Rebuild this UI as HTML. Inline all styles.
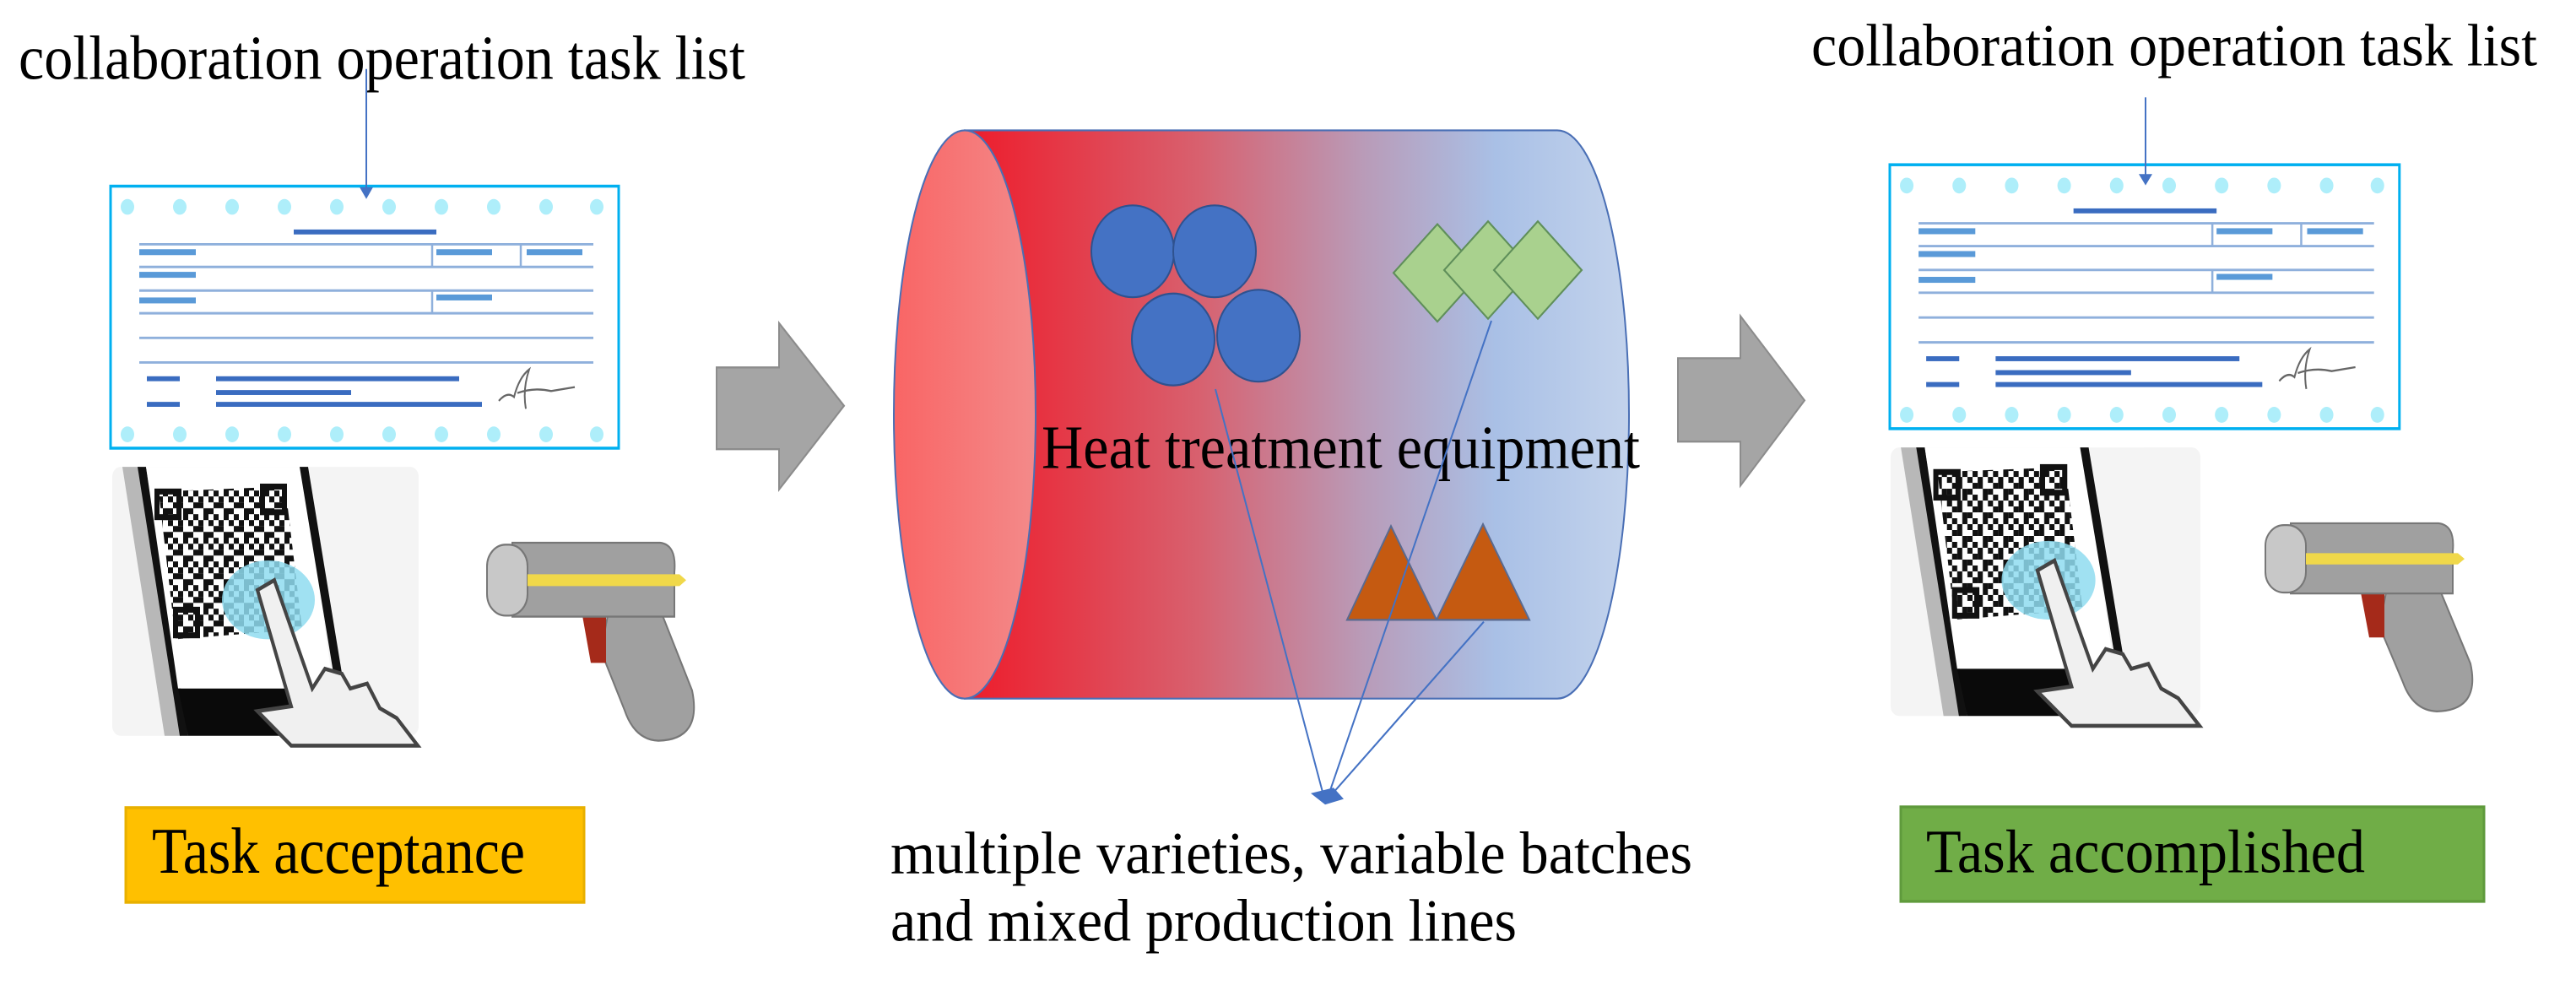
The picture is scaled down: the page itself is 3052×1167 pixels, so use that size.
<!DOCTYPE html>
<html><head><meta charset="utf-8"><style>
html,body{margin:0;padding:0;background:#fff;}
svg{display:block;}
text{font-family:"Liberation Serif",serif;fill:#000;}
</style></head><body>
<svg width="3052" height="1167" viewBox="0 0 3052 1167" xmlns="http://www.w3.org/2000/svg">
<defs>
<linearGradient id="body" x1="0" x2="1" y1="0" y2="0">
<stop offset="0" stop-color="#ee1c2b"/>
<stop offset="0.35" stop-color="#d8606e"/>
<stop offset="0.6" stop-color="#b99bb8"/>
<stop offset="0.8" stop-color="#a9c0e6"/>
<stop offset="1" stop-color="#c3d3ec"/>
</linearGradient>
<linearGradient id="face" x1="0" x2="1" y1="0" y2="0">
<stop offset="0" stop-color="#f96565"/>
<stop offset="1" stop-color="#f38a8a"/>
</linearGradient>
<pattern id="qr" width="24" height="24" patternUnits="userSpaceOnUse">
<rect width="24" height="24" fill="#fff"/>
<rect x="0" y="0" width="6" height="6" fill="#111"/><rect x="12" y="0" width="6" height="6" fill="#111"/>
<rect x="6" y="6" width="6" height="6" fill="#111"/><rect x="18" y="6" width="6" height="6" fill="#111"/>
<rect x="0" y="12" width="6" height="6" fill="#111"/><rect x="6" y="12" width="6" height="6" fill="#111"/>
<rect x="18" y="18" width="6" height="6" fill="#111"/><rect x="12" y="18" width="6" height="6" fill="#111"/>
</pattern>
<g id="doc">
<rect x="0" y="0" width="602" height="266" fill="#fff" stroke="#00b0f0" stroke-width="3"/>
<g fill="#aeeefa">
<circle cx="20" cy="21" r="8"/><circle cx="82" cy="21" r="8"/><circle cx="144" cy="21" r="8"/><circle cx="206" cy="21" r="8"/><circle cx="268" cy="21" r="8"/><circle cx="330" cy="21" r="8"/><circle cx="392" cy="21" r="8"/><circle cx="454" cy="21" r="8"/><circle cx="516" cy="21" r="8"/><circle cx="576" cy="21" r="8"/>
<circle cx="20" cy="252" r="8"/><circle cx="82" cy="252" r="8"/><circle cx="144" cy="252" r="8"/><circle cx="206" cy="252" r="8"/><circle cx="268" cy="252" r="8"/><circle cx="330" cy="252" r="8"/><circle cx="392" cy="252" r="8"/><circle cx="454" cy="252" r="8"/><circle cx="516" cy="252" r="8"/><circle cx="576" cy="252" r="8"/>
</g>
<rect x="217" y="44" width="169" height="5" fill="#3a6cc0"/>
<g stroke="#8fb0dc" stroke-width="2.5">
<line x1="34" y1="59" x2="572" y2="59"/><line x1="34" y1="82" x2="572" y2="82"/>
<line x1="34" y1="106" x2="572" y2="106"/><line x1="34" y1="129" x2="572" y2="129"/>
<line x1="34" y1="154" x2="572" y2="154"/><line x1="34" y1="179" x2="572" y2="179"/>
<line x1="381" y1="59" x2="381" y2="82"/><line x1="486" y1="59" x2="486" y2="82"/>
<line x1="381" y1="106" x2="381" y2="129"/>
</g>
<g fill="#5a9ad8">
<rect x="34" y="64" width="67" height="6"/><rect x="34" y="87" width="67" height="6"/><rect x="34" y="113" width="67" height="6"/>
<rect x="386" y="64" width="66" height="6"/><rect x="493" y="64" width="66" height="6"/><rect x="386" y="110" width="66" height="6"/>
</g>
<g fill="#3a6cc0">
<rect x="43" y="193" width="39" height="5"/><rect x="125" y="193" width="288" height="5"/>
<rect x="125" y="207" width="160" height="5"/>
<rect x="43" y="219" width="39" height="5"/><rect x="125" y="219" width="315" height="5"/>
</g>
<path d="M460 218 q10 -10 18 -4 q6 -20 18 -28 q-8 20 -4 40 M482 210 q20 -6 40 -2 q14 -2 28 -4" stroke="#666" stroke-width="2" fill="none"/>
</g>
<g id="phone">
<rect x="0" y="0" width="363" height="273" rx="10" fill="#f4f4f4"/>
<polygon points="12,0 32,0 82,273 62,273" fill="#b8b8b8"/>
<polygon points="30,0 40,0 90,273 80,273" fill="#111"/>
<polygon points="40,0 225,0 262,225 78,225" fill="#fff"/>
<polygon points="222,0 232,0 275,225 265,225" fill="#111"/>
<polygon points="78,225 268,225 275,273 90,273" fill="#0a0a0a"/>
<polygon points="55,25 205,20 225,165 75,175" fill="url(#qr)"/>
<rect x="53" y="25" width="26" height="26" fill="none" stroke="#111" stroke-width="6"/>
<rect x="178" y="20" width="26" height="26" fill="none" stroke="#111" stroke-width="6"/>
<rect x="75" y="145" width="26" height="26" fill="none" stroke="#111" stroke-width="6"/>
<ellipse cx="185" cy="135" rx="55" ry="40" fill="#8fdcf0" opacity="0.85"/>
<path d="M172 125 l20 -10 l45 110 l15 -20 l20 5 l10 15 l20 -5 l15 25 l20 10 l25 28 l-150 0 l-40 -35 l40 -5 z" fill="#f0f0f0" stroke="#444" stroke-width="4"/>
</g>
<g id="gun">
<path d="M143 74 L208 74 L243 150 Q255 200 203 201 Q175 200 163 170 L135 110 Z" fill="#a0a0a0" stroke="#777" stroke-width="2"/>
<path d="M113 74 L141 74 L141 122 L123 122 Z" fill="#a52a1a"/>
<path d="M30 0 L205 0 Q225 2 222 30 L222 75 L30 75 Z" fill="#a0a0a0" stroke="#777" stroke-width="2"/>
<rect x="0" y="2" width="48" height="72" rx="22" fill="#c8c8c8" stroke="#777" stroke-width="2"/>
<path d="M48 32 L228 32 L236 38 L228 44 L48 44 Z" fill="#f0d84a"/>
</g>
</defs>

<!-- Left -->
<g transform="scale(1,1.167)">
<text x="22" y="80" font-size="64" textLength="861" lengthAdjust="spacingAndGlyphs">collaboration operation task list</text>
<use href="#doc" x="131" y="189"/>
<line x1="434" y1="70" x2="434" y2="196" stroke="#4472c4" stroke-width="2"/>
<polygon points="426,190 442,190 434,202" fill="#4472c4"/>
<use href="#phone" x="133" y="474"/>
<use href="#gun" x="577" y="551"/>
<rect x="149" y="820" width="543" height="96" fill="#ffc000" stroke="#e8b000" stroke-width="3"/>
<text x="180" y="886" font-size="66" textLength="442" lengthAdjust="spacingAndGlyphs">Task acceptance</text>
<polygon points="849,373 923,373 923,328 1000,412 923,497 923,456 849,456" fill="#a5a5a5" stroke="#8c8c8c" stroke-width="2"/>
</g>

<!-- Center -->
<g transform="scale(1,1.111)">
<path d="M1143 139 L1845 139 A85 303 0 0 1 1845 745 L1143 745 Z" fill="url(#body)" stroke="#4a6fb5" stroke-width="2"/>
<ellipse cx="1143" cy="442" rx="84" ry="303" fill="url(#face)" stroke="#4a6fb5" stroke-width="2"/>
<g fill="#4472c4" stroke="#2f528f" stroke-width="2">
<circle cx="1342" cy="268" r="49"/><circle cx="1439" cy="268" r="49"/>
<circle cx="1390" cy="362" r="49"/><circle cx="1491" cy="358" r="49"/>
</g>
<g fill="#a9d18e" stroke="#5f8f5a" stroke-width="2">
<polygon points="1703,239 1755,291 1703,343 1651,291"/>
<polygon points="1763,236 1815,288 1763,340 1711,288"/>
<polygon points="1822,236 1874,288 1822,340 1770,288"/>
</g>
<g fill="#c55a11" stroke="#5a6a90" stroke-width="2">
<polygon points="1648,561 1702,661 1596,661"/>
<polygon points="1757,559 1812,661 1702,661"/>
</g>
<text x="1234" y="499" font-size="66" textLength="709" lengthAdjust="spacingAndGlyphs">Heat treatment equipment</text>
<g stroke="#4472c4" stroke-width="2">
<line x1="1440" y1="415" x2="1568" y2="848"/>
<line x1="1767" y1="342" x2="1574" y2="848"/>
<line x1="1758" y1="663" x2="1579" y2="846"/>
</g>
<polygon points="1553,846 1580,840 1592,852 1570,858" fill="#4472c4"/>
<text x="1055" y="931" font-size="64" textLength="950" lengthAdjust="spacingAndGlyphs">multiple varieties, variable batches</text>
<text x="1055" y="1003" font-size="64" textLength="742" lengthAdjust="spacingAndGlyphs">and mixed production lines</text>
<polygon points="1988,382 2062,382 2062,337 2138,427 2062,518 2062,471 1988,471" fill="#a5a5a5" stroke="#8c8c8c" stroke-width="2"/>
</g>

<!-- Right -->
<g transform="scale(1,1.109)">
<text x="2146" y="70" font-size="64" textLength="860" lengthAdjust="spacingAndGlyphs">collaboration operation task list</text>
<g transform="translate(2239,176) scale(1.003,1.06)"><use href="#doc"/></g>
<line x1="2542" y1="104" x2="2542" y2="192" stroke="#4472c4" stroke-width="2"/>
<polygon points="2534,186 2550,186 2542,198" fill="#4472c4"/>
<g transform="translate(2240,478) scale(1.011,1.051)"><use href="#phone"/></g>
<use href="#gun" x="2684" y="559"/>
<rect x="2252" y="862" width="691" height="101" fill="#70ad47" stroke="#5f9a3c" stroke-width="3"/>
<text x="2282" y="932" font-size="66" textLength="520" lengthAdjust="spacingAndGlyphs">Task accomplished</text>
</g>
</svg>
</body></html>
